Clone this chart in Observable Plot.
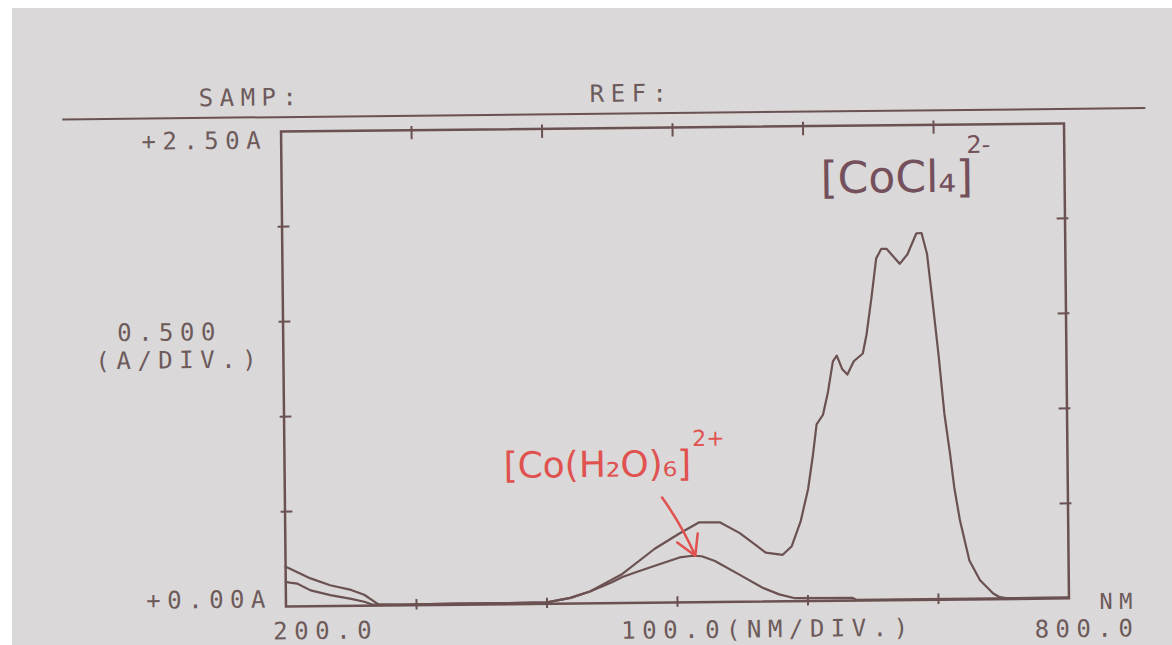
<!DOCTYPE html>
<html><head><meta charset="utf-8">
<script src="https://cdn.jsdelivr.net/npm/d3@7"></script>
<script src="https://cdn.jsdelivr.net/npm/@observablehq/plot@0.6"></script>
<style>
html,body{margin:0;padding:0;background:#fff;width:1172px;height:645px;overflow:hidden}
#paper{position:absolute;left:12px;top:8px;width:1160px;height:637px;background:#dad8d8}
#chart{position:absolute;left:0;top:0}
#chart svg{transform:rotate(-0.6deg);transform-origin:674.5px 364.5px;overflow:visible}
g[font-family="DejaVu Sans Mono"] text{letter-spacing:6.5px}
</style></head><body><div id="paper"></div><div id="chart"></div>
<script>
// [CoCl4]2- spectrum (upper curve)
const nmCoCl4 = [200,203,209,219,234,250,260,268,271,290,330,370,400,418,433,458,483,502,517,533,548,560,568,581,588,595,601,605,608,613,617,621,624,628,632,637,644,647,651,655,659,663,673,679,686,690,694,698,702,706,710,713,717,724,732,742,747,753,800];
const absCoCl4 = [0.21,0.20,0.18,0.147,0.11,0.084,0.058,0.02,0.006,0.004,0.006,0.006,0.008,0.03,0.063,0.153,0.284,0.363,0.42,0.42,0.363,0.30,0.258,0.245,0.29,0.42,0.59,0.77,0.93,0.98,1.10,1.26,1.29,1.22,1.19,1.26,1.30,1.40,1.59,1.80,1.85,1.85,1.77,1.82,1.93,1.93,1.82,1.56,1.29,0.98,0.77,0.59,0.42,0.205,0.10,0.03,0.01,0.004,0.004];
// [Co(H2O)6]2+ spectrum (lower curve)
const nmCoH2O = [200,203,209,219,234,250,260,266,290,330,370,400,418,433,450,458,470,483,502,512,519,529,548,565,578,590,634,637,800];
const absCoH2O = [0.13,0.126,0.12,0.084,0.058,0.037,0.021,0.006,0.004,0.006,0.006,0.008,0.03,0.063,0.11,0.137,0.165,0.195,0.237,0.245,0.242,0.216,0.142,0.074,0.037,0.016,0.015,0.004,0.004];
// axis ticks and printed labels
const xTicks = [300,400,500,600,700];
const yTicks = [0.5,1.0,1.5,2.0];
const yTopLabel = "+2.50A";
const yBottomLabel = "+0.00A";
const yScaleLabel = ["0.500", "(A/DIV.)"];
const xLeftLabel = "200.0";
const xMidLabel = "100.0(NM/DIV.)";
const xRightLabel = "800.0";
const xUnit = "NM";
const headerLabels = ["SAMP:", "REF:"];
const labelCoCl4 = ["[CoCl₄]", "2-"];
const labelCoH2O = ["[Co(H₂O)₆]", "2+"];

const seriesCoCl4 = nmCoCl4.map((n, i) => ({nm: n, A: absCoCl4[i]}));
const seriesCoH2O = nmCoH2O.map((n, i) => ({nm: n, A: absCoH2O[i]}));

const ink = "#6b5151";
const txt = "#6d5a5a";
const red = "#e0524f";
const plum = "#74505c";
const mono = {fontFamily: "DejaVu Sans Mono", fontSize: 24, fill: txt, lineAnchor: "middle"};

const plot = Plot.plot({
  width: 1172, height: 645,
  marginLeft: 283, marginRight: 106, marginTop: 127, marginBottom: 43,
  x: {domain: [200, 800], axis: null},
  y: {domain: [0, 2.5], axis: null},
  style: {background: "transparent", overflow: "visible"},
  marks: [
    // header
    Plot.ruleY([2.5], {x1: 32.9, x2: 862.8, dy: -14.5, stroke: ink, strokeWidth: 2}),
    Plot.text([headerLabels[0]], {x: 200, y: 2.5, dx: -82, dy: -34, text: d => d, textAnchor: "start", ...mono}),
    Plot.text([headerLabels[1]], {x: 500, y: 2.5, dx: -82.5, dy: -34, text: d => d, textAnchor: "start", ...mono}),
    // frame and ticks
    Plot.frame({stroke: ink, strokeWidth: 2.5}),
    Plot.ruleY(yTicks, {x1: 197, x2: 206, stroke: ink, strokeWidth: 2}),
    Plot.ruleY(yTicks, {x1: 794, x2: 803, stroke: ink, strokeWidth: 2}),
    Plot.ruleX(xTicks, {y1: 2.45, y2: 2.52, stroke: ink, strokeWidth: 2}),
    Plot.ruleX(xTicks, {y1: -0.025, y2: 0.03, stroke: ink, strokeWidth: 2}),
    // spectra
    Plot.line(seriesCoH2O, {x: "nm", y: "A", stroke: ink, strokeWidth: 2.2}),
    Plot.line(seriesCoCl4, {x: "nm", y: "A", stroke: ink, strokeWidth: 2.2}),
    // printed axis labels
    Plot.text([yTopLabel], {x: 200, y: 2.5, dx: -14, dy: 9, text: d => d, textAnchor: "end", ...mono}),
    Plot.text([yBottomLabel], {x: 200, y: 0, dx: -14, dy: -7, text: d => d, textAnchor: "end", ...mono}),
    Plot.text([yScaleLabel[0]], {x: 200, y: 1.426, dx: -166, dy: -4, text: d => d, textAnchor: "start", ...mono}),
    Plot.text([yScaleLabel[1]], {x: 200, y: 1.316, dx: -188, dy: 3, text: d => d, textAnchor: "start", ...mono}),
    Plot.text([xLeftLabel], {x: 200, y: 0, dx: -13, dy: 25, text: d => d, textAnchor: "start", ...mono}),
    Plot.text([xMidLabel], {x: 500, y: 0, dx: -56.5, dy: 28, text: d => d, textAnchor: "start", ...mono}),
    Plot.text([xRightLabel], {x: 800, y: 0, dx: 70, dy: 31, text: d => d, textAnchor: "end", ...mono}),
    Plot.text([xUnit], {x: 800, y: 0, dx: 70, dy: 4, text: d => d, textAnchor: "end", ...mono, fontSize: 22}),
    // hand-written annotations
    Plot.text([labelCoCl4[0]], {x: 613, y: 2.221, text: d => d, textAnchor: "start", lineAnchor: "middle", fontFamily: "DejaVu Sans", fontSize: 44, fill: plum}),
    Plot.text([labelCoCl4[1]], {x: 725, y: 2.39, text: d => d, textAnchor: "start", lineAnchor: "middle", fontFamily: "DejaVu Sans", fontSize: 24, fill: plum}),
    Plot.text([labelCoH2O[0]], {x: 367.8, y: 0.726, text: d => d, textAnchor: "start", lineAnchor: "middle", fontFamily: "DejaVu Sans", fontSize: 36, fill: red}),
    Plot.text([labelCoH2O[1]], {x: 512.5, y: 0.86, text: d => d, textAnchor: "start", lineAnchor: "middle", fontFamily: "DejaVu Sans", fontSize: 22, fill: red}),
    Plot.arrow([{x1: 489, y1: 0.553, x2: 514, y2: 0.245}], {x1: "x1", y1: "y1", x2: "x2", y2: "y2", stroke: red, strokeWidth: 2.5, headLength: 14, bend: 6})
  ]
});
document.getElementById("chart").appendChild(plot);
</script>
</body></html>
